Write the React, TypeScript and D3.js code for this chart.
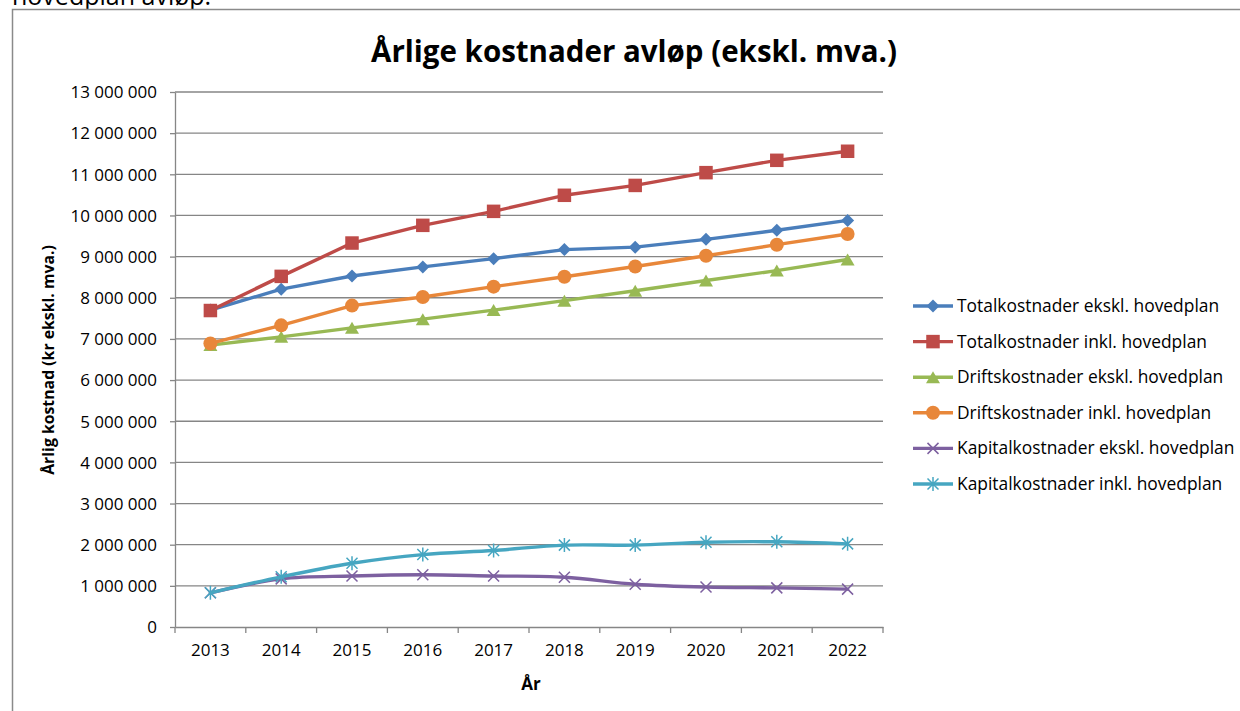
import * as d3 from "d3";
import { useEffect, useRef } from "react";

// Data
const years = ["2013", "2014", "2015", "2016", "2017", "2018", "2019", "2020", "2021", "2022"];
const totalEks = [7700000, 8210000, 8530000, 8750000, 8950000, 9170000, 9230000, 9420000, 9640000, 9880000];
const totalInk = [7690000, 8520000, 9330000, 9760000, 10100000, 10490000, 10730000, 11040000, 11340000, 11560000];
const driftEks = [6850000, 7050000, 7270000, 7480000, 7700000, 7930000, 8170000, 8420000, 8660000, 8930000];
const driftInk = [6890000, 7330000, 7810000, 8020000, 8270000, 8510000, 8760000, 9020000, 9290000, 9550000];
const kapEks = [830000, 1170000, 1240000, 1270000, 1240000, 1210000, 1040000, 970000, 950000, 920000];
const kapInk = [830000, 1220000, 1550000, 1760000, 1860000, 1990000, 1990000, 2060000, 2070000, 2020000];
const yTicks = [0, 1000000, 2000000, 3000000, 4000000, 5000000, 6000000, 7000000, 8000000, 9000000, 10000000, 11000000, 12000000, 13000000];
const seriesNames = [
  "Totalkostnader ekskl. hovedplan",
  "Totalkostnader inkl. hovedplan",
  "Driftskostnader ekskl. hovedplan",
  "Driftskostnader inkl. hovedplan",
  "Kapitalkostnader ekskl. hovedplan",
  "Kapitalkostnader inkl. hovedplan",
];

const FONT = "'Open Sans', sans-serif";

type Marker = "diamond" | "square" | "triangle" | "circle" | "x" | "star";

const series: { name: string; values: number[]; color: string; marker: Marker; smooth: boolean }[] = [
  { name: seriesNames[0], values: totalEks, color: "#4A7EBB", marker: "diamond", smooth: false },
  { name: seriesNames[1], values: totalInk, color: "#BE4B48", marker: "square", smooth: false },
  { name: seriesNames[2], values: driftEks, color: "#98B954", marker: "triangle", smooth: false },
  { name: seriesNames[3], values: driftInk, color: "#E8873A", marker: "circle", smooth: false },
  { name: seriesNames[4], values: kapEks, color: "#7D60A0", marker: "x", smooth: true },
  { name: seriesNames[5], values: kapInk, color: "#46A6C1", marker: "star", smooth: true },
];

function drawMarker(g: d3.Selection<SVGGElement, unknown, null, undefined>, type: Marker, x: number, y: number, color: string) {
  if (type === "diamond") {
    const r = 6.5;
    g.append("path").attr("d", `M${x},${y - r}L${x + r},${y}L${x},${y + r}L${x - r},${y}Z`).attr("fill", color);
  } else if (type === "square") {
    const s = 13.5;
    g.append("rect").attr("x", x - s / 2).attr("y", y - s / 2).attr("width", s).attr("height", s).attr("fill", color);
  } else if (type === "triangle") {
    const w = 14, h = 12;
    g.append("path").attr("d", `M${x},${y - h / 2}L${x + w / 2},${y + h / 2}L${x - w / 2},${y + h / 2}Z`).attr("fill", color);
  } else if (type === "circle") {
    g.append("circle").attr("cx", x).attr("cy", y).attr("r", 7).attr("fill", color);
  } else if (type === "x") {
    const r = 5.5;
    g.append("path")
      .attr("d", `M${x - r},${y - r}L${x + r},${y + r}M${x - r},${y + r}L${x + r},${y - r}`)
      .attr("stroke", color).attr("stroke-width", 1.5).attr("fill", "none");
  } else {
    const r = 5.5;
    g.append("path")
      .attr("d", `M${x - r},${y - r}L${x + r},${y + r}M${x - r},${y + r}L${x + r},${y - r}M${x},${y - r - 1.5}L${x},${y + r + 1.5}`)
      .attr("stroke", color).attr("stroke-width", 1.5).attr("fill", "none");
  }
}

export default function App() {
  const ref = useRef<SVGSVGElement>(null);

  useEffect(() => {
    if (!ref.current) return;
    const svg = d3.select(ref.current);
    svg.selectAll("*").remove();

    const width = 1240;
    const height = 711;
    const plot = { left: 175, right: 883, top: 92, bottom: 627 };

    // page text above the chart frame (cut off by the top edge)
    svg.append("text").attr("x", 12).attr("y", 5).attr("font-family", FONT).attr("font-size", 25).attr("fill", "#000").text("hovedplan avløp.");

    // chart frame
    svg.append("rect").attr("x", 12.5).attr("y", 9.5).attr("width", width + 50).attr("height", height + 50)
      .attr("fill", "#fff").attr("stroke", "#8a8a8a").attr("stroke-width", 1.5);

    const x = d3.scaleBand().domain(years).range([plot.left, plot.right]);
    const y = d3.scaleLinear().domain([0, 13000000]).range([plot.bottom, plot.top]);
    const fmt = (v: number) => d3.format(",")(v).replace(/,/g, " ");

    // grid lines
    svg.append("g").selectAll("line").data(yTicks.filter((d) => d > 0)).enter().append("line")
      .attr("x1", plot.left).attr("x2", plot.right)
      .attr("y1", (d) => y(d)).attr("y2", (d) => y(d))
      .attr("stroke", "#868686").attr("stroke-width", 1.3);

    // y axis
    const yAxis = svg.append("g").attr("transform", `translate(${plot.left},0)`)
      .call(d3.axisLeft(y).tickValues(yTicks).tickSize(5).tickSizeOuter(0).tickFormat((d) => fmt(d as number)));
    yAxis.select(".domain").attr("stroke", "#868686").attr("stroke-width", 1.3);
    yAxis.selectAll(".tick line").attr("stroke", "#868686").attr("stroke-width", 1.3);
    yAxis.selectAll("text").attr("font-family", FONT).attr("font-size", 17).attr("fill", "#000").attr("x", -18).attr("dy", "0.34em");

    // x axis
    const xAxis = svg.append("g").attr("transform", `translate(0,${plot.bottom})`)
      .call(d3.axisBottom(x).tickSize(0).tickSizeOuter(0));
    xAxis.select(".domain").attr("stroke", "#868686").attr("stroke-width", 1.3);
    xAxis.selectAll("text").attr("font-family", FONT).attr("font-size", 17).attr("fill", "#000").attr("y", 17).attr("dy", "0.71em");
    const bounds = years.map((d) => x(d)!).concat([plot.right]);
    svg.append("g").selectAll("line").data(bounds).enter().append("line")
      .attr("x1", (d) => d).attr("x2", (d) => d)
      .attr("y1", plot.bottom).attr("y2", plot.bottom + 6)
      .attr("stroke", "#868686").attr("stroke-width", 1.3);

    // titles
    svg.append("text").attr("x", 634).attr("y", 62).attr("text-anchor", "middle")
      .attr("font-family", FONT).attr("font-weight", 700).attr("font-size", 29.5).attr("fill", "#000")
      .text("Årlige kostnader avløp (ekskl. mva.)");
    svg.append("text").attr("x", 531).attr("y", 690).attr("text-anchor", "middle")
      .attr("font-family", FONT).attr("font-weight", 700).attr("font-size", 17).attr("fill", "#000").text("År");
    svg.append("text").attr("transform", "translate(54,360) rotate(-90)").attr("text-anchor", "middle")
      .attr("font-family", FONT).attr("font-weight", 700).attr("font-size", 15.8).attr("fill", "#000")
      .text("Årlig kostnad (kr ekskl. mva.)");

    // lines and markers
    const cx = (i: number) => x(years[i])! + x.bandwidth() / 2;
    series.forEach((s) => {
      const line = d3.line<number>()
        .x((_, i) => cx(i))
        .y((d) => y(d))
        .curve(s.smooth ? d3.curveCatmullRom.alpha(0.5) : d3.curveLinear);
      svg.append("path").datum(s.values).attr("d", line).attr("fill", "none")
        .attr("stroke", s.color).attr("stroke-width", 3.4).attr("stroke-linejoin", "round").attr("stroke-linecap", "round");
      const mg = svg.append("g");
      s.values.forEach((v, i) => drawMarker(mg, s.marker, cx(i), y(v), s.color));
    });

    // legend
    const legendTop = 306;
    const legendStep = 35.6;
    series.forEach((s, i) => {
      const ly = legendTop + i * legendStep;
      const lg = svg.append("g");
      lg.append("line").attr("x1", 913).attr("x2", 953).attr("y1", ly).attr("y2", ly)
        .attr("stroke", s.color).attr("stroke-width", 3.4);
      drawMarker(lg, s.marker, 933, ly, s.color);
      lg.append("text").attr("x", 957).attr("y", ly).attr("dy", "0.35em")
        .attr("font-family", FONT).attr("font-size", 17.4).attr("fill", "#000").text(s.name);
    });
  }, []);

  return (
    <svg ref={ref} width={1240} height={711}
      style={{ position: "absolute", left: 0, top: 0, background: "#fff", display: "block" }} />
  );
}
